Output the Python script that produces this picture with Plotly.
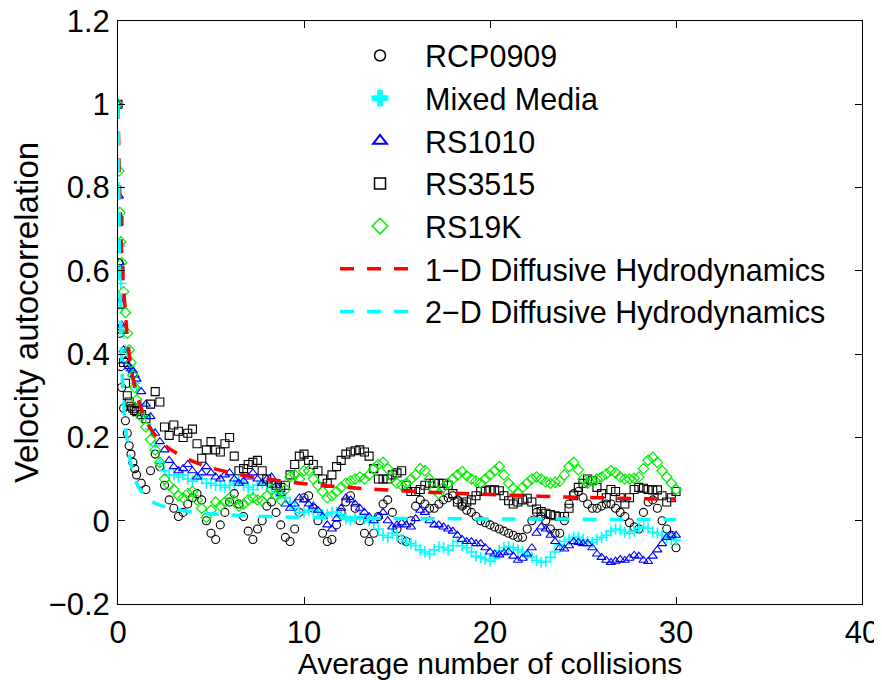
import plotly.graph_objects as go

# ---------------- data ----------------
X_EARLY = [0, 0.05, 0.1, 0.15, 0.2, 0.3, 0.4, 0.5, 0.6, 0.7, 0.8, 0.9]
X_MAIN = [1.0, 1.25, 1.5, 1.75, 2.0, 2.25, 2.5, 2.75, 3.0, 3.25, 3.5, 3.75,
          4.0, 4.25, 4.5, 4.75, 5.0, 5.25, 5.5, 5.75, 6.0, 6.25, 6.5, 6.75,
          7.0, 7.25, 7.5, 7.75, 8.0, 8.25, 8.5, 8.75, 9.0, 9.25, 9.5, 9.75,
          10.0, 10.25, 10.5, 10.75, 11.0, 11.25, 11.5, 11.75, 12.0, 12.25, 12.5, 12.75,
          13.0, 13.25, 13.5, 13.75, 14.0, 14.25, 14.5, 14.75, 15.0, 15.25, 15.5, 15.75,
          16.0, 16.25, 16.5, 16.75, 17.0, 17.25, 17.5, 17.75, 18.0, 18.25, 18.5, 18.75,
          19.0, 19.25, 19.5, 19.75, 20.0, 20.25, 20.5, 20.75, 21.0, 21.25, 21.5, 21.75,
          22.0, 22.25, 22.5, 22.75, 23.0, 23.25, 23.5, 23.75, 24.0, 24.25, 24.5, 24.75,
          25.0, 25.25, 25.5, 25.75, 26.0, 26.25, 26.5, 26.75, 27.0, 27.25, 27.5, 27.75,
          28.0, 28.25, 28.5, 28.75, 29.0, 29.25, 29.5, 29.75, 30.0]
collisions = X_EARLY + X_MAIN

rcp0909 = [1.0, 0.62, 0.45, 0.37, 0.32, 0.27, 0.24, 0.21, 0.18, 0.16, 0.14, 0.125,
           0.11, 0.09, 0.075, 0.12, 0.16, 0.13, 0.085, 0.05, 0.03, 0.01, 0.02, 0.04,
           0.055, 0.065, 0.05, 0.0, -0.03, -0.045, -0.01, 0.02, 0.045, 0.065, 0.04, 0.01,
           -0.025, -0.045, -0.02, 0.0, 0.035, 0.045, 0.02, -0.01, -0.04, -0.05, -0.02, 0.02,
           0.055, 0.06, 0.03, 0.0, -0.03, -0.05, -0.045, -0.01, 0.02, 0.045, 0.06, 0.03,
           0.0, -0.03, -0.05, -0.03, 0.01, 0.04, 0.05, 0.02, -0.02, -0.045, -0.05, 0.0,
           0.035, 0.05, 0.04, 0.03, 0.03, 0.04, 0.05, 0.055, 0.06, 0.05, 0.035, 0.025,
           0.02, 0.01, 0.0, -0.005, -0.01, -0.015, -0.02, -0.025, -0.03, -0.035, -0.04, -0.04,
           -0.02, 0.0, 0.02, 0.01, 0.0, -0.02, -0.03, -0.03, 0.0, 0.04, 0.065, 0.07,
           0.055, 0.04, 0.03, 0.03, 0.035, 0.04, 0.04, 0.03, 0.02, 0.01, -0.005, -0.015,
           -0.02, 0.02, 0.045, 0.05, 0.03, 0.0, -0.02, -0.035, -0.065]

mixed_media = [1.0, 0.8, 0.66, 0.57, 0.51, 0.45, 0.41, 0.39, 0.37, 0.36, 0.345, 0.33,
               0.32, 0.28, 0.25, 0.22, 0.18, 0.14, 0.12, 0.11, 0.11, 0.105, 0.11, 0.1,
               0.095, 0.105, 0.1, 0.09, 0.09, 0.085, 0.085, 0.08, 0.085, 0.09, 0.095, 0.085,
               0.08, 0.075, 0.085, 0.09, 0.085, 0.08, 0.07, 0.065, 0.055, 0.045, 0.03, 0.02,
               0.02, 0.025, 0.025, 0.02, 0.015, 0.015, 0.02, 0.02, 0.015, 0.005, 0.0, 0.005,
               0.01, 0.005, 0.0, -0.005, -0.02, -0.035, -0.04, -0.03, -0.035, -0.045, -0.05, -0.055,
               -0.06, -0.07, -0.075, -0.08, -0.07, -0.063, -0.065, -0.07, -0.06, -0.05, -0.06, -0.065,
               -0.075, -0.085, -0.088, -0.092, -0.097, -0.09, -0.072, -0.065, -0.063, -0.065, -0.07, -0.075,
               -0.082, -0.088, -0.095, -0.1, -0.098, -0.088, -0.075, -0.058, -0.05, -0.045, -0.04, -0.04,
               -0.045, -0.05, -0.052, -0.045, -0.04, -0.035, -0.025, -0.02, -0.022, -0.028, -0.03, -0.025,
               -0.018, -0.015, -0.018, -0.027, -0.03, -0.035, -0.04, -0.045, -0.047]

rs1010 = [1.0, 0.78, 0.62, 0.53, 0.47, 0.41, 0.385, 0.375, 0.37, 0.365, 0.36, 0.35,
          0.34, 0.31, 0.28, 0.25, 0.21, 0.19, 0.17, 0.145, 0.13, 0.12, 0.125, 0.135,
          0.12, 0.105, 0.115, 0.13, 0.115, 0.105, 0.1, 0.11, 0.115, 0.1, 0.09, 0.095,
          0.105, 0.115, 0.1, 0.09, 0.1, 0.105, 0.085, 0.065, 0.04, 0.03, 0.04, 0.055,
          0.05, 0.04, 0.035, 0.025, 0.01, -0.01, -0.02, 0.005, 0.03, 0.055, 0.05, 0.04,
          0.03, 0.02, 0.01, 0.0, 0.01, 0.02, 0.0, -0.015, -0.01, -0.005, -0.01, -0.015,
          0.005, 0.025, 0.02, 0.0, -0.01, -0.01, -0.015, -0.02, -0.025, -0.035, -0.045, -0.05,
          -0.05, -0.055, -0.055, -0.065, -0.075, -0.08, -0.082, -0.077, -0.075, -0.085, -0.095, -0.09,
          -0.08, -0.065, -0.03, -0.015, -0.02, -0.035, -0.05, -0.065, -0.068, -0.06, -0.05, -0.052,
          -0.055, -0.055, -0.065, -0.08, -0.088, -0.095, -0.1, -0.097, -0.093, -0.095, -0.09, -0.083,
          -0.085, -0.095, -0.098, -0.085, -0.07, -0.055, -0.04, -0.035, -0.035]

rs3515 = [1.0, 0.72, 0.6, 0.52, 0.46, 0.38, 0.33, 0.3, 0.285, 0.275, 0.27, 0.265,
          0.262, 0.255, 0.245, 0.28, 0.31, 0.285, 0.225, 0.205, 0.23, 0.215, 0.2, 0.21,
          0.22, 0.185, 0.15, 0.17, 0.19, 0.17, 0.165, 0.185, 0.2, 0.155, 0.12, 0.125,
          0.135, 0.14, 0.145, 0.12, 0.1, 0.09, 0.085, 0.08, 0.085, 0.11, 0.135, 0.155,
          0.16, 0.145, 0.135, 0.12, 0.1, 0.09, 0.11, 0.13, 0.145, 0.16, 0.165, 0.168,
          0.17, 0.165, 0.155, 0.125, 0.1, 0.1, 0.1, 0.11, 0.115, 0.12, 0.085, 0.07,
          0.07, 0.075, 0.085, 0.09, 0.09, 0.09, 0.09, 0.085, 0.065, 0.045, 0.04, 0.045,
          0.05, 0.06, 0.07, 0.072, 0.074, 0.074, 0.072, 0.06, 0.048, 0.04, 0.045, 0.05,
          0.054, 0.045, 0.028, 0.022, 0.018, 0.015, 0.012, 0.01, 0.01, 0.03, 0.06, 0.08,
          0.09, 0.1, 0.096, 0.08, 0.065, 0.055, 0.075, 0.07, 0.055, 0.04, 0.055, 0.075,
          0.08, 0.078, 0.075, 0.074, 0.074, 0.06, 0.045, 0.055, 0.07]

rs19k = [1.0, 0.84, 0.74, 0.67, 0.62, 0.55, 0.5, 0.45, 0.41, 0.38, 0.35, 0.32,
         0.29, 0.25, 0.225, 0.195, 0.17, 0.14, 0.1, 0.085, 0.075, 0.06, 0.055, 0.065,
         0.07, 0.05, 0.03, 0.008, 0.025, 0.045, 0.035, 0.045, 0.055, 0.048, 0.035, 0.04,
         0.05, 0.055, 0.05, 0.048, 0.06, 0.075, 0.06, 0.05, 0.075, 0.105, 0.11, 0.1,
         0.12, 0.12, 0.1, 0.085, 0.07, 0.055, 0.06, 0.07, 0.08, 0.09, 0.095, 0.1,
         0.105, 0.1, 0.11, 0.125, 0.135, 0.14, 0.125, 0.105, 0.09, 0.085, 0.09, 0.1,
         0.11, 0.125, 0.12, 0.1, 0.075, 0.065, 0.08, 0.09, 0.1, 0.11, 0.118, 0.108,
         0.1, 0.095, 0.09, 0.1, 0.11, 0.12, 0.13, 0.11, 0.09, 0.078, 0.068, 0.08,
         0.09, 0.1, 0.105, 0.1, 0.093, 0.09, 0.092, 0.095, 0.11, 0.13, 0.14, 0.122,
         0.1, 0.09, 0.095, 0.1, 0.105, 0.112, 0.12, 0.115, 0.105, 0.1, 0.1, 0.102,
         0.105, 0.125, 0.145, 0.152, 0.14, 0.12, 0.105, 0.09, 0.075]

hydro_x = [0, 0.05, 0.1, 0.15, 0.2, 0.3, 0.4, 0.5, 0.75, 1, 1.25, 1.5, 2, 2.5, 3,
           4, 5, 6, 7, 8, 10, 12, 14, 16, 18, 20, 22, 24, 26, 28, 30]
hydro_1d = [1.0, 0.88, 0.78, 0.7, 0.64, 0.56, 0.5, 0.44, 0.355, 0.305, 0.27, 0.24,
            0.205, 0.182, 0.166, 0.143, 0.127, 0.116, 0.107, 0.1, 0.089, 0.081, 0.075,
            0.07, 0.066, 0.063, 0.06, 0.057, 0.055, 0.053, 0.052]
hydro_2d = [1.0, 0.75, 0.56, 0.45, 0.38, 0.29, 0.23, 0.19, 0.125, 0.09, 0.07, 0.057,
            0.042, 0.034, 0.028, 0.021, 0.017, 0.014, 0.012, 0.01, 0.008, 0.007, 0.006,
            0.005, 0.005, 0.004, 0.004, 0.004, 0.003, 0.003, 0.003]

x_ticks = [0, 10, 20, 30, 40]
x_ticktext = ["0", "10", "20", "30", "40"]
y_ticks = [-0.2, 0, 0.2, 0.4, 0.6, 0.8, 1.0, 1.2]
y_ticktext = ["\u22120.2", "0", "0.2", "0.4", "0.6", "0.8", "1", "1.2"]

names = ["RCP0909", "Mixed Media", "RS1010", "RS3515", "RS19K",
         "1\u2212D Diffusive Hydrodynamics", "2\u2212D Diffusive Hydrodynamics"]

# ---------------- figure ----------------
FONT = "Liberation Sans, Arial, Helvetica, sans-serif"
GREEN = "#00EE00"
DASH = "14px,13px"
fig = go.Figure()

series = [
    (rcp0909, "circle-open", "#000000", 8, 1.1),
    (mixed_media, "cross-thin-open", "#00FFFF", 8, 1.6),
    (rs1010, "triangle-up-open", "#0000FF", 8, 1.1),
    (rs3515, "square-open", "#000000", 8, 1.1),
    (rs19k, "diamond-open", GREEN, 8, 1.2),
]
for vals, sym, col, sz, lw in series:
    fig.add_trace(go.Scatter(
        x=collisions, y=vals, mode="markers", showlegend=False,
        marker=dict(symbol=sym, size=sz, color=col, line=dict(color=col, width=lw)),
    ))

fig.add_trace(go.Scatter(
    x=hydro_x, y=hydro_1d, mode="lines", showlegend=False,
    line=dict(color="#FF0000", width=3.5, dash=DASH, shape="spline"),
))
fig.add_trace(go.Scatter(
    x=hydro_x, y=hydro_2d, mode="lines", showlegend=False,
    line=dict(color="#00FFFF", width=3.5, dash=DASH, shape="spline"),
))

# legend entries (larger symbols like the reference legend)
legend_markers = [
    ("circle-open", "#000000", 11, 1.5),
    ("cross", "#00FFFF", 14, 0),
    ("triangle-up-open", "#0000FF", 12, 2),
    ("square-open", "#000000", 11, 1.5),
    ("diamond-open", GREEN, 12, 1.5),
]
for (sym, col, sz, lw), nm in zip(legend_markers, names[:5]):
    fig.add_trace(go.Scatter(
        x=[None], y=[None], mode="markers", name=nm,
        marker=dict(symbol=sym, size=sz, color=col, line=dict(color=col, width=lw)),
    ))
fig.add_trace(go.Scatter(x=[None], y=[None], mode="lines", name=names[5],
                         line=dict(color="#FF0000", width=3.5, dash=DASH)))
fig.add_trace(go.Scatter(x=[None], y=[None], mode="lines", name=names[6],
                         line=dict(color="#00FFFF", width=3.5, dash=DASH)))

axis_common = dict(
    showgrid=False, zeroline=False, showline=True, linecolor="black", linewidth=1,
    mirror="ticks", ticks="inside", ticklen=7, tickcolor="black", tickwidth=1,
    tickfont=dict(family=FONT, size=31, color="black"), automargin=False,
    ticklabeloverflow="allow",
)
# the page body has an 8px margin, so the figure is 8px smaller than the window
fig.update_layout(
    width=874, height=672,
    margin=dict(l=110, r=20, t=13, b=76),
    paper_bgcolor="white", plot_bgcolor="white",
    font=dict(family=FONT, size=31, color="black"),
    xaxis=dict(range=[0, 40], tickvals=x_ticks, ticktext=x_ticktext,
               ticklabelstandoff=1,
               title=dict(text="Average number of collisions", standoff=6,
                          font=dict(family=FONT, size=30)),
               **axis_common),
    yaxis=dict(range=[-0.2, 1.2], tickvals=y_ticks, ticktext=y_ticktext,
               ticklabelstandoff=1,
               title=dict(text="Velocity autocorrelation", standoff=0,
                          font=dict(family=FONT, size=33)),
               **axis_common),
    legend=dict(x=0.2917, y=0.986, xanchor="left", yanchor="top",
                bgcolor="rgba(0,0,0,0)", borderwidth=0,
                font=dict(family=FONT, size=30.5, color="black"),
                itemwidth=80, tracegroupgap=0),
    showlegend=True,
)

fig.write_html("out.html")
